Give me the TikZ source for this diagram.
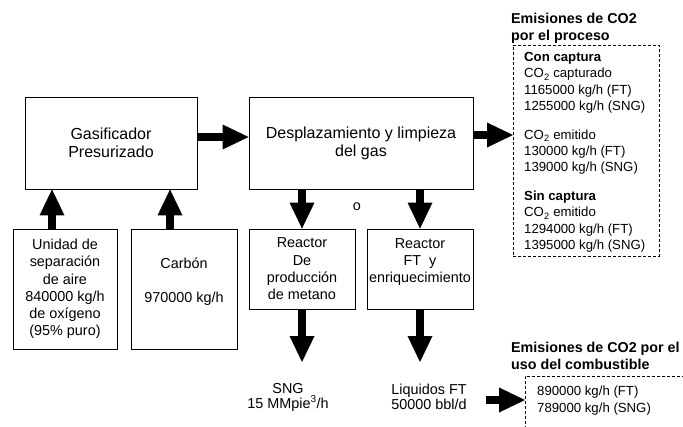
\documentclass[tikz,border=0pt]{standalone}
\usepackage{fontspec}
\setmainfont{Liberation Sans}
\usetikzlibrary{arrows.meta,positioning}

\begin{document}
\begin{tikzpicture}[x=1pt,y=-1pt,
        box/.style={draw, line width=0.8pt, align=center, inner sep=1pt, font=\fontsize{14.4}{17.3}\selectfont},
        bigbox/.style={box, font=\fontsize{16}{18}\selectfont},
        dashbox/.style={draw, dash pattern=on 3pt off 2pt, line width=0.8pt, inner sep=0pt},
        fat/.style={line width=8pt, -{Triangle[length=26pt,width=25pt,line width=0pt]}},
        side/.style={align=left, inner sep=0pt, font=\fontsize{13.2}{16.3}\selectfont},
        head/.style={align=left, inner sep=0pt, font=\bfseries\fontsize{14.3}{16.8}\selectfont},
        prodtxt/.style={align=center, inner sep=1pt, font=\fontsize{14.4}{15}\selectfont}]
        \useasboundingbox (0,0) rectangle (683,426);
        % main line
        \node[bigbox, minimum width=172pt, minimum height=92pt] (gas) at (111,143) {Gasificador\\Presurizado};
        \node[bigbox, minimum width=224pt, minimum height=92pt] (desp) at (361,143) {Desplazamiento y limpieza\\del gas};
        % feeds
        \node[box, minimum width=104pt, minimum height=120pt] (asu) at (65,289) {Unidad de\\separación\\de aire\\840000 kg/h\\de oxígeno\\(95\% puro)};
        \node[box, minimum width=106pt, minimum height=120pt] (carbon) at (184,289) {Carbón\\~\\970000 kg/h\\~};
        % reactors and products
        \node[box, minimum width=106pt, minimum height=80pt] (rsng) at (302,269) {Reactor\\De\\producción\\de metano};
        \node[box, minimum width=106pt, minimum height=80pt] (rft) at (420,269) {Reactor\\FT~~y\\enriquecimiento\\~};
        \node[prodtxt] (or) at (357,207) {o};
        \node[prodtxt] (sng) at (288,397) {SNG\\15 MMpie\textsuperscript{3}/h};
        \node[prodtxt] (liq) at (429,397) {Liquidos FT\\50000 bbl/d};
        \coordinate (sngout) at (302,362);
        \coordinate (liqout) at (420,362);
        % CO2 emissions
        \node[head, anchor=north west] (proctit) at (511,13) {Emisiones de CO2\\por el proceso};
        \node[dashbox, anchor=north west, minimum width=146pt, minimum height=211pt] (procbox) at (513,45) {};
        \node[side, anchor=north west] (proctxt) at (524,52) {\textbf{Con captura}\\CO\textsubscript{2} capturado\\1165000 kg/h (FT)\\1255000 kg/h (SNG)\\[12.5pt]
            CO\textsubscript{2} emitido\\130000 kg/h (FT)\\139000 kg/h (SNG)\\[12.5pt]
            \textbf{Sin captura}\\CO\textsubscript{2} emitido\\1294000 kg/h (FT)\\1395000 kg/h (SNG)};
        \node[head, anchor=north west] (combtit) at (511,342) {Emisiones de CO2 por el\\uso del combustible};
        \node[dashbox, anchor=north west, minimum width=200pt, minimum height=80pt] (combbox) at (525,376) {};
        \node[side, anchor=north west] (combtxt) at (537,386) {890000 kg/h (FT)\\789000 kg/h (SNG)};
        % flows
        \draw[fat] ([yshift=6pt]gas.east) -- ([yshift=6pt]desp.west);
        \draw[fat] ([yshift=8pt]desp.east) -- ([yshift=8pt]desp.east -| procbox.west);
        \draw[fat] ([xshift=-13pt]asu.north) -- ([xshift=-13pt]asu.north |- gas.south);
        \draw[fat] ([xshift=-14pt]carbon.north) -- ([xshift=-14pt]carbon.north |- gas.south);
        \draw[fat] (desp.south -| rsng.north) -- (rsng.north);
        \draw[fat] (desp.south -| rft.north) -- (rft.north);
        \draw[fat] (rsng.south) -- (sngout);
        \draw[fat] (rft.south) -- (liqout);
        \draw[fat] ([xshift=18pt,yshift=-3pt]liq.east) -- ([yshift=-3pt]liq.east -| combbox.west);
    \end{tikzpicture}
\end{document}
